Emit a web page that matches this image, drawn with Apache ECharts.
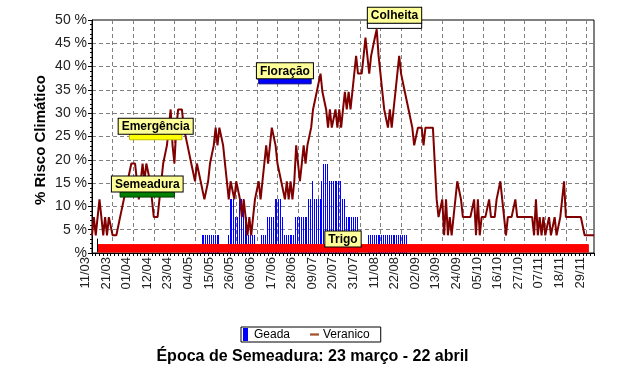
<!DOCTYPE html>
<html>
<head>
<meta charset="utf-8">
<script src="https://cdn.jsdelivr.net/npm/echarts@6/dist/echarts.min.js"></script>
<style>
html,body{margin:0;padding:0;background:#fff;}
#chart{width:625px;height:389px;}
</style>
</head>
<body>
<div id="chart"></div>
<script>
// ---- data ----
const dayCount = 269;
const tickStep = 11;
const tickLabels = ['11/03','21/03','01/04','12/04','23/04','04/05','15/05','26/05','06/06','17/06','28/06','09/07','20/07','31/07','11/08','22/08','02/09','13/09','24/09','05/10','16/10','27/10','07/11','18/11','29/11'];

const veranico = [
3.8,7.7,3.8,7.7,11.5,7.7,3.8,7.7,3.8,7.7,
7.7,3.8,3.8,3.8,3.8,7.7,7.7,11.5,11.5,15.4,
15.4,19.2,19.2,19.2,15.4,11.5,15.4,19.2,15.4,19.2,
19.2,15.4,11.5,7.7,7.7,7.7,11.5,15.4,19.2,19.2,
23.1,26.9,30.8,23.1,19.2,26.9,30.8,30.8,30.8,26.9,
26.9,23.1,23.1,19.2,19.2,15.4,19.2,19.2,15.4,15.4,
11.5,11.5,15.4,19.2,19.2,23.1,26.9,23.1,26.9,26.9,
23.1,19.2,15.4,11.5,15.4,15.4,11.5,15.4,15.4,11.5,
7.7,11.5,7.7,3.8,7.7,3.8,7.7,11.5,11.5,15.4,
11.5,15.4,19.2,23.1,19.2,23.1,26.9,26.9,23.1,19.2,
19.2,15.4,15.4,11.5,15.4,11.5,15.4,11.5,15.4,23.1,
19.2,15.4,19.2,23.1,19.2,23.1,23.1,26.9,30.8,30.8,
34.6,34.6,38.5,34.6,34.6,30.8,26.9,30.8,26.9,26.9,
30.8,26.9,30.8,26.9,30.8,34.6,30.8,34.6,30.8,34.6,
34.6,42.3,38.5,38.5,38.5,42.3,46.2,42.3,38.5,42.3,
42.3,46.2,48,42.3,38.5,34.6,30.8,30.8,26.9,30.8,
26.9,30.8,34.6,38.5,42.3,38.5,38.5,34.6,34.6,30.8,
30.8,26.9,23.1,23.1,26.9,26.9,26.9,23.1,26.9,26.9,
26.9,26.9,26.9,19.2,11.5,7.7,7.7,11.5,3.8,11.5,
3.8,7.7,3.8,7.7,11.5,15.4,15.4,11.5,7.7,7.7,
7.7,7.7,7.7,7.7,11.5,3.8,11.5,3.8,7.7,7.7,
7.7,7.7,11.5,7.7,7.7,7.7,11.5,11.5,15.4,11.5,
7.7,3.8,7.7,7.7,7.7,7.7,11.5,7.7,7.7,7.7,
7.7,7.7,7.7,7.7,7.7,7.7,3.8,11.5,3.8,7.7,
3.8,7.7,3.8,3.8,7.7,3.8,3.8,7.7,3.8,3.8,
7.7,7.7,15.4,7.7,7.7,7.7,7.7,7.7,7.7,7.7,
7.7,7.7,7.7,3.8,3.8,3.8,3.8,3.8,3.8
];

const geada = [
0,0,0,0,0,0,0,0,0,0,
0,0,0,0,0,0,0,0,0,0,
0,0,0,0,0,0,0,0,0,0,
0,0,0,0,0,0,0,0,0,0,
0,0,0,0,0,0,0,0,0,0,
0,0,0,0,0,0,0,0,0,3.8,
3.8,3.8,3.8,3.8,3.8,3.8,3.8,3.8,3.8,0,
0,0,0,3.8,11.5,11.5,11.5,7.7,7.7,11.5,
11.5,11.5,7.7,7.7,3.8,3.8,3.8,3.8,0,0,
0,3.8,3.8,3.8,7.7,7.7,7.7,7.7,11.5,11.5,
11.5,11.5,7.7,3.8,3.8,3.8,3.8,3.8,3.8,7.7,
7.7,7.7,7.7,7.7,7.7,7.7,11.5,11.5,15.4,11.5,
11.5,11.5,11.5,15.4,19.2,19.2,19.2,15.4,15.4,15.4,
15.4,15.4,15.4,15.4,11.5,11.5,7.7,7.7,7.7,7.7,
7.7,7.7,7.7,0,0,0,0,0,3.8,3.8,
3.8,3.8,3.8,3.8,3.8,3.8,3.8,3.8,3.8,3.8,
3.8,3.8,3.8,3.8,3.8,3.8,3.8,3.8,3.8,0,
0,0,0,0,0,0,0,0,0,0,
0,0,0,0,0,0,0,0,0,0,
0,0,0,0,0,0,0,0,0,0,
0,0,0,0,0,0,0,0,0,0,
0,0,0,0,0,0,0,0,0,0,
0,0,0,0,0,0,0,0,0,0,
0,0,0,0,0,0,0,0,0,0,
0,0,0,0,0,0,0,0,0,0,
0,0,0,0,0,0,0,0,0,0,
0,0,0,0,0,0,0,0,0
];

const phaseNames = ['Trigo','Semeadura','Emergência','Floração','Colheita'];
const phaseStart = [3, 15, 20, 89, 147];
const phaseEnd   = [265, 44, 48, 117, 176];
const phaseLow   = [0.2, 12.0, 24.3, 36.3, 48.2];
const phaseHigh  = [1.8, 13.2, 25.6, 37.5, 49.4];

// ---- styles ----
const FONT = 'Liberation Sans, Arial, sans-serif';
const phaseFill   = ['#ff0000','#008000','#ffff00','#0000ff','#ffffff'];
const phaseStroke = ['#ff0000','#004000','#c0c000','#000080','#000000'];
const labelShift  = [2, 0, 0, 0, 0];
const startMark   = [true, false, false, false, false];

const days = Array.from({length: dayCount}, (_, i) => i);
const phaseData = phaseNames.map((n, i) => [phaseStart[i], phaseEnd[i], phaseLow[i], phaseHigh[i]]);
const geadaData = geada.map((v, i) => [i, v]);

const chart = echarts.init(document.getElementById('chart'), null, {renderer: 'canvas'});
const isTick = (i) => i % tickStep === 0;

chart.setOption({
  animation: false,
  backgroundColor: '#ffffff',
  textStyle: {fontFamily: FONT},
  title: {
    text: 'Época de Semeadura: 23 março - 22 abril',
    left: 'center', top: 344,
    textStyle: {fontFamily: FONT, fontSize: 16, fontWeight: 'bold', color: '#000'}
  },
  legend: {
    left: 241, top: 327,
    orient: 'horizontal',
    backgroundColor: '#fff',
    borderColor: '#000', borderWidth: 1, borderRadius: 0,
    padding: [1, 11, 1, 2],
    itemGap: 20,
    itemWidth: 9, itemHeight: 13,
    symbolKeepAspect: true,
    textStyle: {fontFamily: FONT, fontSize: 12, color: '#000', padding: [0,0,0,-1]},
    data: [
      {name: 'Geada', icon: 'path://M0,0L5,0L5,13L0,13Z', itemStyle: {color: '#0000ff'}},
      {name: 'Veranico', icon: 'path://M0,0L8,0L8,2L0,2Z', itemStyle: {color: '#a0522d'}}
    ]
  },
  graphic: [{
    type: 'text', x: 41, y: 140, rotation: Math.PI / 2,
    style: {text: '% Risco Climático', font: 'bold 15px ' + FONT, fill: '#000', align: 'center', verticalAlign: 'middle'}
  }],
  grid: {left: 92, right: 31, top: 20, bottom: 136, show: true, borderColor: '#000', borderWidth: 1, backgroundColor: 'transparent'},
  xAxis: {
    type: 'category',
    data: days,
    boundaryGap: false,
    axisLine: {lineStyle: {color: '#000', width: 1}},
    axisTick: {show: true, interval: 1, length: 3, lineStyle: {color: '#000'}},
    axisLabel: {
      interval: (i) => isTick(i),
      formatter: (v, i) => tickLabels[Math.round(Number(v) / tickStep)],
      rotate: 90,
      verticalAlign: 'bottom',
      margin: 4,
      fontFamily: FONT, fontSize: 13, color: '#222'
    },
    splitLine: {show: true, interval: (i) => isTick(i) && i > 0, lineStyle: {color: '#808080', type: [4, 3], width: 1}}
  },
  yAxis: {
    type: 'value',
    min: 0, max: 50, interval: 5,
    axisLine: {show: true, lineStyle: {color: '#000', width: 1}},
    axisTick: {show: true, length: 4, lineStyle: {color: '#000'}},
    minorTick: {show: true, splitNumber: 5, length: 2, lineStyle: {color: '#000'}},
    axisLabel: {
      formatter: (v) => (v === 0 ? '%' : v + ' %'),
      margin: 5,
      fontFamily: FONT, fontSize: 14, color: '#222'
    },
    splitLine: {show: true, lineStyle: {color: '#808080', type: [4, 3], width: 1}}
  },
  series: [
    {
      name: 'Geada',
      type: 'custom',
      z: 2,
      itemStyle: {color: '#0000ff'},
      encode: {x: 0, y: 1},
      data: geadaData,
      renderItem: function (params, api) {
        const v = api.value(1);
        if (!v) return null;
        const top = api.coord([api.value(0), v]);
        const base = api.coord([api.value(0), 0]);
        const x = Math.round(top[0]);
        const y = Math.round(top[1]);
        return {type: 'rect', shape: {x: x - 1, y: y, width: 1, height: Math.round(base[1]) - y},
                style: {fill: '#0000ff'}};
      }
    },
    {
      name: 'Veranico',
      type: 'line',
      data: veranico,
      symbol: 'none',
      lineStyle: {color: '#800000', width: 2},
      itemStyle: {color: '#800000'},
      z: 3
    },
    {
      name: 'Fases',
      type: 'custom',
      clip: false,
      z: 5,
      encode: {x: [0, 1], y: [2, 3]},
      data: phaseData,
      renderItem: function (params, api) {
        const idx = params.dataIndex;
        const p0 = api.coord([api.value(0), api.value(3)]);
        const p1 = api.coord([api.value(1), api.value(2)]);
        const cx = (p0[0] + p1[0]) / 2;
        const children = [
          {type: 'rect', shape: {x: p0[0], y: p0[1], width: p1[0] - p0[0], height: p1[1] - p0[1]},
           style: {fill: phaseFill[idx], stroke: phaseStroke[idx], lineWidth: 1}},
          {type: 'text', x: cx, y: p0[1] + labelShift[idx], z2: 10,
           style: {text: phaseNames[idx], fill: '#000', font: 'bold 12px ' + FONT,
                   align: 'center', verticalAlign: 'bottom',
                   backgroundColor: '#ffff99', borderColor: '#000', borderWidth: 1,
                   padding: [2, 3, 1, 3]}}
        ];
        if (startMark[idx]) {
          const x0 = Math.round(p0[0]) - 0.5;
          children.push({type: 'line', shape: {x1: x0, y1: p1[1], x2: x0, y2: p0[1] - 6},
                         style: {stroke: '#000', lineWidth: 1}});
        }
        return {type: 'group', children: children};
      }
    }
  ]
});
</script>
</body>
</html>
